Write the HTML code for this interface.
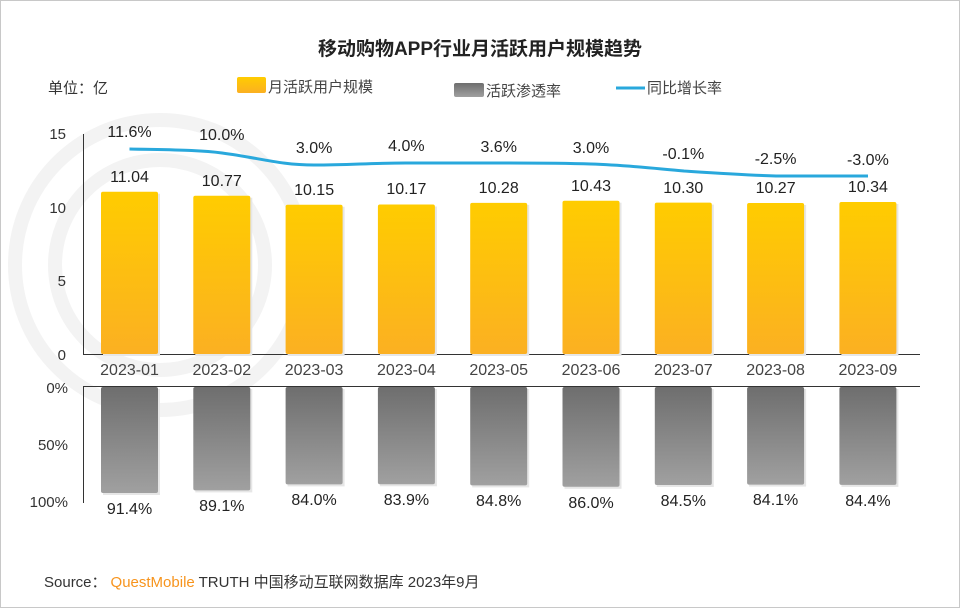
<!DOCTYPE html>
<html><head><meta charset="utf-8"><style>
body{margin:0;background:#fff}
svg{display:block}
text{font-family:"Liberation Sans","Noto Sans CJK SC",sans-serif}
</style></head><body>
<svg width="960" height="608" viewBox="0 0 960 608">
<defs>
<linearGradient id="yg" x1="0" y1="0" x2="0" y2="1"><stop offset="0" stop-color="#ffcc00"/><stop offset="1" stop-color="#fbb022"/></linearGradient>
<linearGradient id="gg" x1="0" y1="0" x2="0" y2="1"><stop offset="0" stop-color="#6e6e6e"/><stop offset="1" stop-color="#a0a0a0"/></linearGradient>
</defs>
<rect x="0.5" y="0.5" width="959" height="607" fill="#fff" stroke="#c8c8c8"/>
<g fill="none" stroke="#f3f3f3" stroke-width="14">
<circle cx="160" cy="265" r="145"/><circle cx="160" cy="265" r="105"/>
</g>
<text x="480" y="55" text-anchor="middle" font-size="19" font-weight="bold" fill="#222">移动购物APP行业月活跃用户规模趋势</text>
<text x="48" y="93" font-size="15" fill="#333">单位：亿</text>
<rect x="237" y="77" width="29" height="16" rx="2" fill="url(#yg)"/>
<text x="268" y="92" font-size="15" fill="#444">月活跃用户规模</text>
<rect x="454" y="83" width="30" height="14" rx="2" fill="url(#gg)"/>
<text x="486" y="96" font-size="15" fill="#444">活跃渗透率</text>
<line x1="616" y1="88" x2="645" y2="88" stroke="#29a8dc" stroke-width="3"/>
<text x="647" y="93" font-size="15" fill="#444">同比增长率</text>
<g font-size="15" fill="#333" text-anchor="end">
<text x="66" y="139">15</text><text x="66" y="213">10</text><text x="66" y="286">5</text><text x="66" y="360">0</text>
<text x="68" y="393">0%</text><text x="68" y="450">50%</text><text x="68" y="507">100%</text>
</g>
<line x1="83.5" y1="134" x2="83.5" y2="354" stroke="#333"/>
<line x1="83" y1="354.5" x2="920" y2="354.5" stroke="#333"/>
<line x1="83" y1="386.5" x2="920" y2="386.5" stroke="#333"/>
<line x1="83.5" y1="386" x2="83.5" y2="503" stroke="#333"/>

<g fill="#e6e6e6">
<rect x="103" y="193.7" width="57" height="162.3"/>
<rect x="195.3" y="197.7" width="57" height="158.3"/>
<rect x="287.6" y="206.8" width="57" height="149.2"/>
<rect x="379.9" y="206.5" width="57" height="149.5"/>
<rect x="472.2" y="204.9" width="57" height="151.1"/>
<rect x="564.5" y="202.7" width="57" height="153.3"/>
<rect x="656.8" y="204.6" width="57" height="151.4"/>
<rect x="749.1" y="205" width="57" height="151"/>
<rect x="841.4" y="204" width="57" height="152"/>
</g>
<g fill="url(#yg)">
<rect x="101" y="191.7" width="57" height="162.3" rx="2"/>
<rect x="193.3" y="195.7" width="57" height="158.3" rx="2"/>
<rect x="285.6" y="204.8" width="57" height="149.2" rx="2"/>
<rect x="377.9" y="204.5" width="57" height="149.5" rx="2"/>
<rect x="470.2" y="202.9" width="57" height="151.1" rx="2"/>
<rect x="562.5" y="200.7" width="57" height="153.3" rx="2"/>
<rect x="654.8" y="202.6" width="57" height="151.4" rx="2"/>
<rect x="747.1" y="203" width="57" height="151" rx="2"/>
<rect x="839.4" y="202" width="57" height="152" rx="2"/>
</g>
<g fill="#e6e6e6">
<rect x="103" y="389" width="57" height="106"/>
<rect x="195.3" y="389" width="57" height="103.4"/>
<rect x="287.6" y="389" width="57" height="97.4"/>
<rect x="379.9" y="389" width="57" height="97.3"/>
<rect x="472.2" y="389" width="57" height="98.4"/>
<rect x="564.5" y="389" width="57" height="99.8"/>
<rect x="656.8" y="389" width="57" height="98"/>
<rect x="749.1" y="389" width="57" height="97.6"/>
<rect x="841.4" y="389" width="57" height="97.9"/>
</g>
<g fill="url(#gg)">
<rect x="101" y="387" width="57" height="106" rx="2"/>
<rect x="193.3" y="387" width="57" height="103.4" rx="2"/>
<rect x="285.6" y="387" width="57" height="97.4" rx="2"/>
<rect x="377.9" y="387" width="57" height="97.3" rx="2"/>
<rect x="470.2" y="387" width="57" height="98.4" rx="2"/>
<rect x="562.5" y="387" width="57" height="99.8" rx="2"/>
<rect x="654.8" y="387" width="57" height="98" rx="2"/>
<rect x="747.1" y="387" width="57" height="97.6" rx="2"/>
<rect x="839.4" y="387" width="57" height="97.9" rx="2"/>
</g>

<path d="M129.5,149 C175,150 200,150 222,153 C260,158 280,165 314,165 C350,165 370,163 406,163 C440,163 470,163 499,163 C530,163 560,163 591,164 C625,165 650,168 684,171 C715,173 745,175 776,176 C810,176 840,176 868,176" fill="none" stroke="#29a8dc" stroke-width="3"/>

<g font-size="16" fill="#222" text-anchor="middle">
<text x="129.5" y="182">11.04</text>
<text x="221.8" y="186">10.77</text>
<text x="314.1" y="195">10.15</text>
<text x="406.4" y="194">10.17</text>
<text x="498.7" y="193">10.28</text>
<text x="591" y="191">10.43</text>
<text x="683.3" y="193">10.30</text>
<text x="775.6" y="193">10.27</text>
<text x="867.9" y="192">10.34</text>

<text x="129.5" y="137">11.6%</text>
<text x="221.8" y="140">10.0%</text>
<text x="314.1" y="153">3.0%</text>
<text x="406.4" y="151">4.0%</text>
<text x="498.7" y="152">3.6%</text>
<text x="591" y="153">3.0%</text>
<text x="683.3" y="159">-0.1%</text>
<text x="775.6" y="164">-2.5%</text>
<text x="867.9" y="165">-3.0%</text>

<text x="129.5" y="514">91.4%</text>
<text x="221.8" y="511">89.1%</text>
<text x="314.1" y="505">84.0%</text>
<text x="406.4" y="505">83.9%</text>
<text x="498.7" y="506">84.8%</text>
<text x="591" y="508">86.0%</text>
<text x="683.3" y="506">84.5%</text>
<text x="775.6" y="505">84.1%</text>
<text x="867.9" y="506">84.4%</text>
</g>
<g font-size="16" fill="#444" text-anchor="middle">
<text x="129.5" y="375">2023-01</text>
<text x="221.8" y="375">2023-02</text>
<text x="314.1" y="375">2023-03</text>
<text x="406.4" y="375">2023-04</text>
<text x="498.7" y="375">2023-05</text>
<text x="591" y="375">2023-06</text>
<text x="683.3" y="375">2023-07</text>
<text x="775.6" y="375">2023-08</text>
<text x="867.9" y="375">2023-09</text>
</g>
<text x="44" y="587" font-size="15" fill="#333">Source：<tspan fill="#f7941d" dx="4">QuestMobile</tspan> TRUTH 中国移动互联网数据库 2023年9月</text>
</svg>
</body></html>
